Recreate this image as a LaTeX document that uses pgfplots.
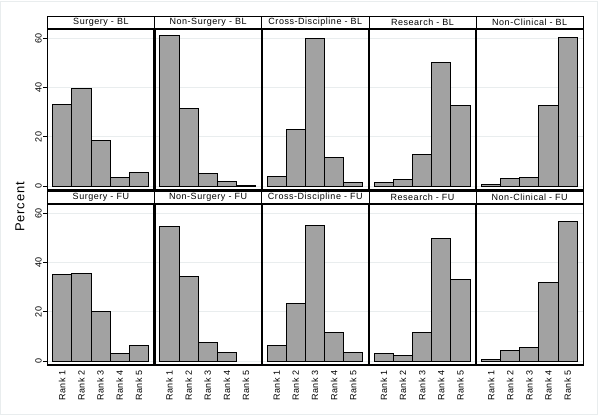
\documentclass[border=0pt]{standalone}
\usepackage{fontspec}
\setmainfont{Liberation Sans}
\newfontfamily\smallfont[LetterSpace=6]{Liberation Sans}
\newfontfamily\labelfont[LetterSpace=6]{Liberation Sans}
\usepackage{pgfplots}
\usepackage{pgfplotstable}
\pgfplotsset{compat=1.18}

\definecolor{bargray}{HTML}{A2A2A2}
\definecolor{gridgray}{HTML}{E9EDEE}

% percent by rank, baseline and follow-up
\pgfplotstableread{
rank surg nonsurg cross research nonclin
1 33.2 61.3  3.9  1.5  0.8
2 39.7 31.6 23.0  2.7  3.1
3 18.6  5.1 60.0 12.9  3.5
4  3.5  1.9 11.6 50.2 32.8
5  5.6  0.3  1.5 32.8 60.4
}\bl
\pgfplotstableread{
rank surg nonsurg cross research nonclin
1 35.2 54.7  6.2  3.0  0.5
2 35.6 34.3 23.3  2.2  4.2
3 20.1  7.5 55.2 11.5  5.4
4  3.0  3.4 11.5 49.8 31.9
5  6.2  nan  3.4 33.1 56.7
}\fu

\pgfplotsset{
  panel/.style={
    scale only axis, width=107.2pt, height=161pt, anchor=south west,
    xmin=0.22, xmax=5.82, ymin=-1.63, ymax=63.8,
    ytick={0,20,40,60}, xtick={1,2,3,4,5},
    ymajorgrids, grid style={gridgray, line width=0.7pt},
    axis line style={line width=0.6pt},
    xtick style={draw=none}, ytick pos=left,
    ytick style={black, line width=0.6pt}, major tick length=4pt, tick align=outside,
    xticklabels={}, yticklabels={},
    clip=false,
    /pgf/number format/assume math mode=true,
    every axis title shift=0pt,
    title style={at={(0.5,1)}, anchor=south, yshift=0pt, draw, line width=0.6pt, fill=white,
      minimum width=107.2pt, minimum height=12.5pt, inner sep=0pt,
      font=\smallfont\fontsize{9}{10}\selectfont},
  },
  first/.style={
    yticklabels={0,20,40,60},
    yticklabel style={rotate=90, anchor=south, inner sep=1.5pt, font=\smallfont\fontsize{9}{10}\selectfont},
  },
  inner/.style={ytick style={draw=none},
    extra description/.code={\draw[line width=2.4pt] (rel axis cs:0,0) -- (rel axis cs:0,1);}},
  bottomrow/.style={
    xticklabels={Rank 1,Rank 2,Rank 3,Rank 4,Rank 5},
    xticklabel style={rotate=90, anchor=east, inner sep=1pt, font=\smallfont\fontsize{9}{10}\selectfont},
  },
  bars/.style={ybar, bar width=1, bar shift=0pt, fill=bargray, draw=black, line width=0.8pt},
}

\newcommand{\topline}{\draw[line width=2pt] (rel axis cs:0,1) -- (rel axis cs:1,1);}
\newcommand{\botline}{\draw[line width=2pt] (rel axis cs:0,0) -- (rel axis cs:1,0);}

\begin{document}
\begin{tikzpicture}
\path[use as bounding box, fill=white] (0pt,0pt) rectangle (600pt,415pt);
\draw[gridgray, line width=1pt] (0.5pt,0.5pt) rectangle (597.5pt,413pt);

% baseline row
\begin{axis}[panel, first, at={(47.3pt,225pt)}, title={Surgery - BL}]
\addplot[bars] table[x=rank, y=surg] {\bl};
\topline \botline
\end{axis}
\begin{axis}[panel, inner, at={(154.5pt,225pt)}, title={Non-Surgery - BL}]
\addplot[bars] table[x=rank, y=nonsurg] {\bl};
\topline \botline
\end{axis}
\begin{axis}[panel, inner, at={(261.7pt,225pt)}, title={Cross-Discipline - BL}]
\addplot[bars] table[x=rank, y=cross] {\bl};
\topline \botline
\end{axis}
\begin{axis}[panel, inner, at={(368.9pt,225pt)}, title={Research - BL}]
\addplot[bars] table[x=rank, y=research] {\bl};
\topline \botline
\end{axis}
\begin{axis}[panel, inner, at={(476.1pt,225pt)}, title={Non-Clinical - BL}]
\addplot[bars] table[x=rank, y=nonclin] {\bl};
\topline \botline
\end{axis}

% follow-up row
\begin{axis}[panel, first, bottomrow, at={(47.3pt,50pt)}, title={Surgery - FU}]
\addplot[bars] table[x=rank, y=surg] {\fu};
\topline \botline
\end{axis}
\begin{axis}[panel, inner, bottomrow, at={(154.5pt,50pt)}, title={Non-Surgery - FU}]
\addplot[bars] table[x=rank, y=nonsurg] {\fu};
\topline \botline
\end{axis}
\begin{axis}[panel, inner, bottomrow, at={(261.7pt,50pt)}, title={Cross-Discipline - FU}]
\addplot[bars] table[x=rank, y=cross] {\fu};
\topline \botline
\end{axis}
\begin{axis}[panel, inner, bottomrow, at={(368.9pt,50pt)}, title={Research - FU}]
\addplot[bars] table[x=rank, y=research] {\fu};
\topline \botline
\end{axis}
\begin{axis}[panel, inner, bottomrow, at={(476.1pt,50pt)}, title={Non-Clinical - FU}]
\addplot[bars] table[x=rank, y=nonclin] {\fu};
\topline \botline
\end{axis}

\node[rotate=90, font=\labelfont\fontsize{13}{15}\selectfont] at (20pt,208pt) {Percent};
\end{tikzpicture}
\end{document}
